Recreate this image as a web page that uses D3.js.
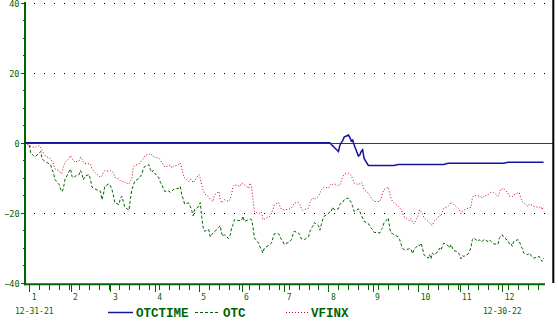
<!DOCTYPE html>
<html>
<head>
<meta charset="utf-8">
<script src="https://cdnjs.cloudflare.com/ajax/libs/d3/7.8.5/d3.min.js"></script>
<style>
  body { margin: 0; background: #fff; }
  svg { display: block; }
</style>
</head>
<body>
<div id="chart"></div>
<script>
// 休場日 (2022)
const holidays = ["2022-01-17", "2022-02-21", "2022-04-15", "2022-05-30", "2022-06-20",
                  "2022-07-04", "2022-09-05", "2022-11-24", "2022-12-26"];
const firstDay = "2021-12-31";
const lastDay = "2022-12-30";
const monthLabels = ["1", "2", "3", "4", "5", "6", "7", "8", "9", "10", "11", "12"];
const yLabels = [40, 20, 0, -20, -40];
const gridValues = [40, 20, -20];
const dateLabels = ["12-31-21", "12-30-22"];
const seriesNames = ["OTCTIME", "OTC", "VFINX"];

// 営業日ごとの値 (%)
const otcTime = [
  0, 0, 0, 0, 0, 0, 0, 0, 0, 0,  0, 0, 0, 0, 0, 0, 0, 0, 0, 0,
  0, 0, 0, 0, 0, 0, 0, 0, 0, 0,  0, 0, 0, 0, 0, 0, 0, 0, 0, 0,
  0, 0, 0, 0, 0, 0, 0, 0, 0, 0,  0, 0, 0, 0, 0, 0, 0, 0, 0, 0,
  0, 0, 0, 0, 0, 0, 0, 0, 0, 0,  0, 0, 0, 0, 0, 0, 0, 0, 0, 0,
  0, 0, 0, 0, 0, 0, 0, 0, 0, 0,  0, 0, 0, 0, 0, 0, 0, 0, 0, 0,
  0, 0, 0, 0, 0, 0, 0, 0, 0, 0,  0, 0, 0, 0, 0, 0, 0, 0, 0, 0,
  0, 0, 0, 0, 0, 0, 0, 0, 0, 0,  0, 0, 0, 0, 0, 0, 0, 0, 0, 0,
  0, 0, 0, 0, 0, 0, 0,
  -0.5, -0.9, -1.3, -2.5, -0.8, 0.0, 0.6, 1.6, 2.2, 1.5, 0.5, 0.8, -0.6,
  -3.8, -3.5, -2.5, -2.0, -4.5, -6.5,
  -6.5, -6.5, -6.5, -6.5, -6.5, -6.5, -6.5, -6.5, -6.5, -6.5, -6.5, -6.5, -6.5,
  -6.2, -6.2, -6.2, -6.2, -6.2, -6.2, -6.2, -6.2, -6.2, -6.2, -6.2, -6.2, -6.2,
  -6.2, -6.2, -6.2, -6.2, -6.2, -6.2, -6.2, -6.2, -6.2, -6.2, -6.2, -6.2,
  -5.9, -5.9, -5.9, -5.9, -5.9, -5.9, -5.9, -5.9, -5.9, -5.9, -5.9, -5.9, -5.9, -5.9, -5.9,
  -5.9, -5.9, -5.9, -5.9, -5.9, -5.9, -5.9, -5.9, -5.9, -5.9, -5.9, -5.9, -5.9, -5.9,
  -5.6, -5.6, -5.6, -5.6, -5.6, -5.6, -5.6, -5.6, -5.6, -5.6,
  -5.6, -5.6, -5.6, -5.6, -5.6, -5.6, -5.6, -5.6, -5.6
];
const otc = [
  0, -0.6, -2.9, -3.3, -3.7, -4.1, -2.9, -2.5, -4.7, -5.0,
  -5.3, -6.3, -7.7, -8.6, -10.5, -12.0, -13.3, -14.0, -13.0, -10.6,
  -8.2, -7.5, -9.6, -10.1, -9.6, -9.1, -7.9, -9.1, -10.6, -9.6,
  -9.1, -10.6, -12.7, -13.0, -13.2, -13.9, -16.3, -14.9, -12.5, -11.7,
  -12.3, -13.4, -14.9, -17.1, -17.7, -15.8, -15.3, -16.8, -18.4, -19.3,
  -16.0, -13.4, -12.2, -11.0, -10.2, -9.6, -9.1, -7.5, -6.8, -6.3,
  -7.7, -8.5, -7.9, -8.7, -10.1, -11.3, -12.0, -13.0, -13.9, -13.8,
  -14.2, -13.9, -13.4, -13.0, -12.5, -14.8, -16.0, -17.5, -17.2, -18.2,
  -19.3, -20.9, -19.1, -18.2, -17.1, -21.0, -24.1, -25.3, -24.8, -26.9,
  -26.3, -25.8, -25.5, -24.1, -23.7, -25.8, -26.8, -26.3, -27.4, -26.5,
  -24.4, -23.4, -22.0, -22.3, -22.2, -21.0, -22.5, -22.0, -21.8, -22.0,
  -23.9, -27.2, -28.7, -29.8, -30.6, -31.5, -30.1, -29.1, -28.7, -27.3,
  -26.0, -26.0, -26.8, -27.7, -28.2, -29.1, -28.2, -27.7, -26.3, -25.3,
  -25.8, -26.3, -27.5, -27.7, -27.7, -26.9, -25.3, -24.5, -23.9, -22.8,
  -23.7, -25.0, -23.4, -22.0, -21.0, -20.3, -19.6, -19.6, -18.4, -19.1,
  -18.9, -17.7, -17.2, -17.1, -16.3, -15.8, -16.5, -17.1, -18.2, -19.6,
  -18.9, -19.6, -20.6, -21.5, -22.5, -23.1, -23.9, -24.4, -24.8, -25.6,
  -25.8, -24.8, -24.4, -22.9, -21.5, -24.5, -25.8, -26.0, -26.3, -26.9,
  -27.7, -29.1, -30.1, -30.6, -30.4, -30.3, -30.5, -31.7, -30.6, -29.2,
  -29.4, -28.7, -30.1, -32.0, -33.0, -32.0, -33.2, -31.5, -32.0, -31.1,
  -30.1, -30.6, -29.6, -28.7, -29.4, -30.1, -29.1, -30.1, -30.8, -31.3,
  -32.0, -33.2, -32.3, -32.5, -31.8, -31.0, -30.0, -27.7, -27.2, -28.2,
  -27.7, -28.2, -28.2, -27.7, -28.2, -27.7, -28.2, -28.9, -29.0, -27.2,
  -26.8, -26.3, -27.0, -28.0, -28.9, -28.7, -29.6, -28.2, -27.7, -28.2,
  -29.4, -30.2, -31.5, -32.0, -31.5, -32.2, -32.5, -33.0, -32.5, -33.4,
  -33.9, -33.0
];
const vfinx = [
  0, -0.8, -1.0, -1.25, -1.3, -1.4, -0.8, -1.25, -2.2, -3.0,
  -3.7, -4.6, -5.3, -6.1, -7.5, -8.0, -8.75, -8.6, -7.0, -5.6,
  -4.6, -3.65, -4.6, -5.0, -5.6, -5.1, -4.1, -4.6, -5.6, -5.9,
  -6.1, -6.1, -7.5, -8.0, -8.5, -9.9, -9.4, -8.5, -8.0, -8.2,
  -8.0, -8.2, -8.5, -9.9, -10.4, -10.9, -11.3, -10.9, -11.3, -11.8,
  -11.0, -10.4, -7.0, -6.5, -6.1, -5.6, -5.0, -4.6, -3.8, -3.1,
  -3.5, -3.4, -3.9, -4.1, -4.4, -5.0, -5.6, -6.1, -6.9, -6.6,
  -6.3, -7.2, -6.8, -6.3, -5.8, -7.2, -9.1, -10.1, -11.1, -10.4,
  -10.6, -11.5, -11.0, -9.1, -10.1, -12.0, -13.4, -14.6, -15.5, -16.1,
  -16.5, -16.8, -15.0, -13.9, -16.3, -17.2, -16.8, -16.3, -16.8, -16.0,
  -14.8, -12.5, -12.0, -12.5, -11.5, -11.8, -12.0, -13.0, -11.5, -12.5,
  -16.0, -19.6, -20.3, -20.0, -19.8, -22.0, -21.8, -21.0, -20.1, -19.2,
  -17.7, -17.1, -18.2, -19.0, -19.1, -19.2, -18.9, -18.5, -18.2, -17.2,
  -17.1, -17.7, -18.9, -19.3, -19.1, -18.7, -17.2, -16.3, -15.8, -16.3,
  -15.3, -14.4, -13.6, -13.0, -12.6, -13.0, -12.3, -11.7, -12.0, -11.7,
  -12.3, -12.0, -10.9, -9.8, -9.0, -8.7, -8.9, -9.4, -10.4, -11.5,
  -12.0, -11.7, -11.3, -12.0, -13.4, -14.4, -15.1, -15.8, -16.3, -16.8,
  -16.8, -15.8, -14.4, -13.4, -12.7, -14.4, -16.0, -16.8, -17.2, -18.2,
  -18.6, -19.1, -20.1, -21.2, -22.0, -22.3, -21.7, -22.7, -23.2, -20.8,
  -19.1, -19.6, -20.3, -21.5, -22.5, -22.9, -23.4, -23.7, -22.5, -21.5,
  -20.6, -21.0, -19.6, -18.7, -18.2, -17.7, -16.8, -17.3, -17.7, -18.7,
  -19.2, -20.3, -19.6, -19.3, -18.7, -18.6, -18.5, -15.8, -15.0, -15.2,
  -15.3, -15.5, -15.8, -15.3, -14.9, -14.4, -14.2, -14.2, -15.3, -14.4,
  -13.2, -13.3, -13.0, -14.4, -15.3, -15.4, -15.5, -14.9, -14.4, -14.3,
  -15.8, -16.8, -17.2, -18.2, -17.6, -17.8, -17.8, -18.2, -18.5, -18.2,
  -19.1, -18.0
];

const green = "#006400";
const colors = { OTCTIME: "#1414a0", OTC: green, VFINX: "#cc0022" };
const dashes = { OTCTIME: null, OTC: "3,2", VFINX: "1,2" };

// 営業日の日付
const parse = d3.utcParse("%Y-%m-%d");
const fmt = d3.utcFormat("%Y-%m-%d");
const days = d3.utcDay.range(parse(firstDay), d3.utcDay.offset(parse(lastDay), 1))
  .filter(d => d.getUTCDay() % 6 !== 0 && !holidays.includes(fmt(d)));
[otcTime, otc, vfinx].forEach(s => {
  if (s.length !== days.length) console.error("length", s.length, days.length);
});

// 月初の営業日
const monthStarts = days.filter((d, i) => i > 0 && (i === 1 || d.getUTCMonth() !== days[i - 1].getUTCMonth()));
const mondays = d3.utcMonday.range(parse("2022-01-01"), parse("2022-12-31"));

const x = d3.scaleUtc()
  .domain([parse(firstDay), parse("2022-12-31")])
  .range([25, 545]);
const y = d3.scaleLinear()
  .domain([-40, 40])
  .range([282.7, 2.7]);

const svg = d3.select("#chart")
  .append("svg")
  .attr("width", 558)
  .attr("height", 321)
  .style("background", "#fff");

// グリッド (点線)
svg.selectAll(".grid")
  .data(gridValues)
  .enter()
  .append("line")
  .attr("x1", 34)
  .attr("x2", 545)
  .attr("y1", d => Math.round(y(d)) + 0.5)
  .attr("y2", d => Math.round(y(d)) + 0.5)
  .attr("stroke", "#000")
  .attr("stroke-dasharray", "1,9")
  .attr("shape-rendering", "crispEdges");

// ゼロ線
svg.append("line")
  .attr("x1", 25).attr("x2", 553)
  .attr("y1", Math.round(y(0)) + 0.5).attr("y2", Math.round(y(0)) + 0.5)
  .attr("stroke", green)
  .attr("shape-rendering", "crispEdges");

// Y軸
const yMinor = svg.append("g")
  .attr("transform", "translate(24,0)")
  .call(d3.axisLeft(y).tickValues(d3.range(-40, 41, 5)).tickSize(1.5).tickFormat(""));
const yMajor = svg.append("g")
  .attr("transform", "translate(24,0)")
  .call(d3.axisLeft(y).tickValues(yLabels).tickSize(3.5).tickPadding(1));
[yMinor, yMajor].forEach(g => {
  g.select(".domain").remove();
  g.selectAll("line").attr("stroke", green).attr("shape-rendering", "crispEdges");
});
yMajor.selectAll("text")
  .attr("fill", green)
  .attr("dy", "0.45em")
  .style("font", "8.5px 'DejaVu Sans Mono', monospace");

// X軸
const xWeek = svg.append("g")
  .attr("transform", "translate(0,285.3)")
  .call(d3.axisBottom(x).tickValues(mondays).tickSize(5).tickFormat(""));
const xMonth = svg.append("g")
  .attr("transform", "translate(0,285.3)")
  .call(d3.axisBottom(x).tickValues(monthStarts).tickSize(7).tickPadding(2)
    .tickFormat((d, i) => monthLabels[i]));
[xWeek, xMonth].forEach(g => {
  g.select(".domain").remove();
  g.selectAll("line").attr("stroke", green).attr("shape-rendering", "crispEdges");
});
xMonth.selectAll("text")
  .attr("fill", green)
  .attr("text-anchor", "start")
  .attr("x", 2)
  .style("font", "8px 'DejaVu Sans Mono', monospace");

// 軸線と右端
svg.append("line")
  .attr("x1", 25).attr("x2", 25).attr("y1", 2).attr("y2", 285.3)
  .attr("stroke", green).attr("stroke-width", 2);
svg.append("line")
  .attr("x1", 24).attr("x2", 545).attr("y1", 284.3).attr("y2", 284.3)
  .attr("stroke", green).attr("stroke-width", 2);
svg.append("line")
  .attr("x1", 553.3).attr("x2", 553.3).attr("y1", 0).attr("y2", 283)
  .attr("stroke", "#000").attr("stroke-width", 2);

// 系列
const series = [
  { name: "OTCTIME", values: otcTime },
  { name: "OTC", values: otc },
  { name: "VFINX", values: vfinx }
];
const line = d3.line()
  .x((d, i) => x(days[i]))
  .y(d => y(d));
svg.selectAll(".series")
  .data(series.slice().reverse())
  .enter()
  .append("path")
  .attr("d", d => line(d.values))
  .attr("fill", "none")
  .attr("stroke", d => colors[d.name])
  .attr("stroke-width", d => d.name === "OTCTIME" ? 1.5 : 1)
  .attr("stroke-dasharray", d => dashes[d.name]);

// 日付
svg.selectAll(".date")
  .data(dateLabels)
  .enter()
  .append("text")
  .attr("x", (d, i) => i === 0 ? 15 : 483)
  .attr("y", 314)
  .attr("fill", green)
  .style("font", "8px 'DejaVu Sans Mono', monospace")
  .text(d => d);

// 凡例
const legendX = [108, 195, 286];
const legend = svg.selectAll(".legend")
  .data(seriesNames)
  .enter()
  .append("g")
  .attr("transform", (d, i) => `translate(${legendX[i]},312.5)`);
legend.append("line")
  .attr("x1", 0).attr("x2", (d, i) => i === 2 ? 22 : 25)
  .attr("stroke", d => colors[d])
  .attr("stroke-width", d => d === "OTCTIME" ? 1.5 : 1)
  .attr("stroke-dasharray", d => dashes[d]);
legend.append("text")
  .attr("x", (d, i) => i === 2 ? 25 : 28)
  .attr("y", 4.5)
  .attr("fill", green)
  .style("font", "bold 12.5px 'Liberation Mono', monospace")
  .text(d => d);
</script>
</body>
</html>
